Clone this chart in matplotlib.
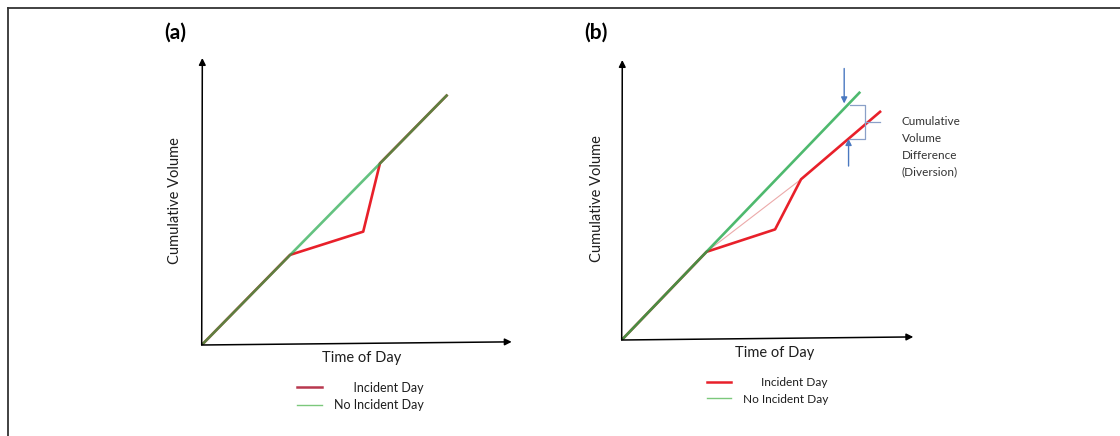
import numpy as np
import matplotlib
matplotlib.use('Agg')
import matplotlib.pyplot as plt
from matplotlib.lines import Line2D

plt.rcParams['font.family'] = ['Lato', 'DejaVu Sans']

# schematic cumulative volume curves (arbitrary units)
t_a = [0, 2.85, 5.21, 5.75, 7.90]
incident_a = [0, 3.14, 3.95, 6.33, 8.69]
t_no_a = [0, 7.90]
no_incident_a = [0, 8.69]

t_b = [0, 2.91, 5.26, 6.15, 8.86]
incident_b = [0, 3.15, 3.95, 5.74, 8.15]
t_no_b = [0, 8.15]
no_incident_b = [0, 8.83]
t_ann = 7.75  # where the diversion gap is marked

RED = '#e8202a'
GREEN = '#22a84a'
TXT = '#1e1e1e'

fig = plt.figure(figsize=(11.2, 4.36), dpi=100)
W, H = 1120, 436

# outer frame (top and left edges only)
fig.add_artist(Line2D([8 / W, 8 / W], [0, 1 - 8 / H], color='#333333', lw=1.3))
fig.add_artist(Line2D([8 / W, 1], [1 - 8 / H, 1 - 8 / H], color='#333333', lw=1.3))


def make_axes(x0, y0, x1, y_top):
    # pixel box -> figure fraction
    ax = fig.add_axes([x0 / W, 1 - y0 / H, (x1 - x0) / W, (y0 - y_top) / H])
    ax.set_xlim(0, 10)
    ax.set_ylim(0, 10)
    ax.axis('off')
    arrow = dict(arrowstyle='-|>', color='black', lw=1.1, mutation_scale=10,
                 shrinkA=0, shrinkB=0)
    ax.annotate('', xy=(10, 0.11), xytext=(0, 0), arrowprops=arrow, annotation_clip=False)
    ax.annotate('', xy=(0.02, 10), xytext=(0, 0), arrowprops=arrow, annotation_clip=False)
    return ax


def add_legend(ax, x, y, red_color, size):
    handles = [Line2D([], [], color=red_color, lw=1.8),
               Line2D([], [], color='#7cc87c', lw=1.0)]
    ax.legend(handles, ['      Incident Day', 'No Incident Day'],
              loc='upper left', bbox_to_anchor=(x, y), frameon=False,
              fontsize=size, handlelength=2.0, handletextpad=1.0,
              labelspacing=0.45, borderpad=0, borderaxespad=0, labelcolor=TXT)


def labels(ax, tag, tag_xy, ylab_x, xlab_xy):
    ax.text(*tag_xy, tag, transform=ax.transAxes, fontsize=15,
            fontweight='bold', va='center', ha='left', color='black')
    ax.text(ylab_x, 0.505, 'Cumulative Volume', transform=ax.transAxes, fontsize=10.5,
            rotation=90, va='center', ha='center', color=TXT)
    ax.text(*xlab_xy, 'Time of Day', transform=ax.transAxes, fontsize=10.5,
            va='center', ha='center', color=TXT)


# panel (a)
ax1 = make_axes(201.7, 345, 511.7, 58)
ax1.plot(t_a, incident_a, color=RED, lw=1.9)
ax1.plot(t_no_a, no_incident_a, color=GREEN, lw=1.9, alpha=0.7)
labels(ax1, '(a)', (-0.12, 1.087), -0.086, (0.516, -0.046))
add_legend(ax1, 0.306, -0.128, '#b8384e', 9)

# panel (b)
ax2 = make_axes(621.7, 340, 913.3, 60)
ax2.plot([t_b[1], t_b[3]], [incident_b[1], incident_b[3]], color='#ecaaaa', lw=0.8)
ax2.plot(t_b, incident_b, color=RED, lw=1.9)
ax2.plot(t_no_b, no_incident_b, color=GREEN, lw=1.9, alpha=0.8)
labels(ax2, '(b)', (-0.128, 1.096), -0.086, (0.526, -0.0475))
add_legend(ax2, 0.292, -0.133, RED, 8.6)

# diversion gap: arrows and bracket between the two curves
g = np.interp(t_ann, t_no_b, no_incident_b)
r = np.interp(t_ann, t_b, incident_b)
blue = '#4a78c0'
ax2.annotate('', xy=(t_ann - 0.12, g + 0.05), xytext=(t_ann - 0.12, g + 1.3),
             arrowprops=dict(arrowstyle='-|>', color=blue, lw=1.0, mutation_scale=9,
                             shrinkA=0, shrinkB=0), annotation_clip=False)
ax2.annotate('', xy=(t_ann + 0.03, r + 0.02), xytext=(t_ann + 0.03, r - 0.95),
             arrowprops=dict(arrowstyle='-|>', color=blue, lw=1.0, mutation_scale=9,
                             shrinkA=0, shrinkB=0), annotation_clip=False)
bx0, bx1 = t_ann + 0.08, t_ann + 0.6
ax2.plot([bx0, bx1, bx1, bx0], [g, g, r, r], color='#8aa0c8', lw=0.9, clip_on=False)
ax2.plot([bx1, bx1 + 0.5], [(g + r) / 2, (g + r) / 2], color='#8aa0c8', lw=0.9,
         clip_on=False)
ax2.text(0.96, 0.69, 'Cumulative\nVolume\nDifference\n(Diversion)', transform=ax2.transAxes,
         fontsize=8.5, va='center', ha='left', linespacing=1.65, color='#333333')

fig.savefig('out.png', dpi=100)
